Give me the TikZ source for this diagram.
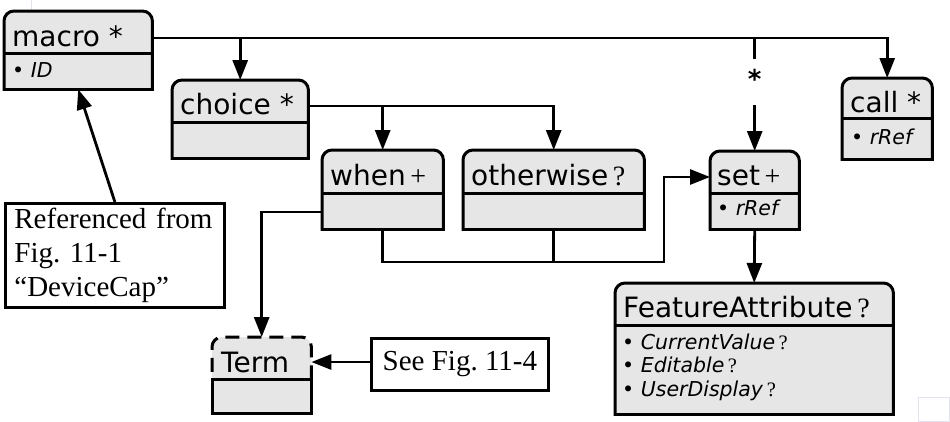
\documentclass[tikz,border=0pt]{standalone}
\usepackage{fontspec}
\setmainfont{DejaVu Sans}
\newfontfamily\tm{Liberation Serif}
\newfontfamily\dvb{DejaVu Sans Bold}
\usetikzlibrary{arrows.meta}
\definecolor{boxfill}{HTML}{E6E6E6}
\definecolor{faint}{HTML}{E2E2F0}
\tikzset{
  x=1pt, y=-1pt,
  conn/.style={line width=2.8pt},
  arr/.style={conn, -{Triangle[length=20pt,width=15pt]}},
  outline/.style={line width=3pt, line cap=rect},
  area/.style={inner sep=0pt, anchor=north west},
  hdr/.style={inner sep=0pt, anchor=base west, font=\fontsize{28}{33}\selectfont},
  attr/.style={inner sep=0pt, anchor=base west, font=\fontsize{20.5}{24}\selectfont},
  notebox/.style={draw, line width=2.8pt, inner sep=0pt, anchor=north west,
    font=\tm\frenchspacing\fontsize{29}{34}\selectfont},
}
\newcommand\umlframe[2]{%
  \fill[boxfill, rounded corners=10pt] (#1.south east) -- (#1.north east) -- (#1.north west) -- (#1.south west);
  \draw[outline, rounded corners=10pt] (#1.south east) -- (#1.north east) -- (#1.north west) -- (#1.south west);
  \draw[outline] (#1.south west) -- (#1.south east);
  \draw[outline] ([yshift=-#2]#1.north west) -- ([yshift=-#2]#1.north east);
}
\newcommand\opt{\,{\tm ?}}
\newcommand\attrq{\,{\tm\fontsize{20.5}{24}\selectfont ?}}
\begin{document}
\begin{tikzpicture}
\useasboundingbox (0,0) rectangle (950,421);

% faint artefacts
\draw[faint, line width=0.8pt] (918,397) rectangle (949,421);
\draw[faint, line width=0.8pt] (31,0) -- (31,10);

% box areas
\node[area, minimum width=148pt, minimum height=78pt] (macro) at (4,11) {};
\node[area, minimum width=136pt, minimum height=78pt] (choice) at (172,80) {};
\node[area, minimum width=121pt, minimum height=79pt] (when) at (322,150) {};
\node[area, minimum width=181pt, minimum height=79pt] (otherwise) at (463,150) {};
\node[area, minimum width=89pt, minimum height=78pt] (set) at (710,151) {};
\node[area, minimum width=90pt, minimum height=81pt] (call) at (842,78) {};
\node[area, minimum width=278pt, minimum height=131pt] (fa) at (615,283) {};
\node[area, minimum width=99pt, minimum height=76pt] (term) at (212,337) {};

\umlframe{macro}{42pt}
\umlframe{choice}{42pt}
\umlframe{when}{43pt}
\umlframe{otherwise}{43pt}
\umlframe{set}{42pt}
\umlframe{call}{40pt}
\umlframe{fa}{42pt}

% Term box: dashed header, solid body
\fill[boxfill, rounded corners=10pt] (term.south east) -- (term.north east) -- (term.north west) -- (term.south west);
\draw[line width=3pt, dash pattern=on 14pt off 8pt, rounded corners=10pt]
  ([yshift=34pt]term.south east) -- (term.north east) -- (term.north west) -- ([yshift=34pt]term.south west);
\draw[outline] ([yshift=34pt]term.south west) rectangle (term.south east);

% texts in boxes
\node[hdr] (macro-t) at (12,46) {macro *};
\node[attr] (macro-a) at (12,77) {• \textit{ID}};
\node[hdr] (choice-t) at (180,114) {choice *};
\node[hdr] (when-t) at (330,185) {when\,{\tm +}};
\node[hdr] (otherwise-t) at (471,185) {otherwise\opt};
\node[hdr] (set-t) at (717,185) {set\,{\tm +}};
\node[attr] (set-a) at (717,215) {• \textit{rRef}};
\node[hdr] (call-t) at (850,112) {call *};
\node[attr] (call-a) at (851,144) {• \textit{rRef}};
\node[hdr] (fa-t) at (623,317) {FeatureAttribute\opt};
\node[attr] (fa-a1) at (622,349) {• \textit{CurrentValue}\attrq};
\node[attr] (fa-a2) at (622,372) {• \textit{Editable}\attrq};
\node[attr] (fa-a3) at (622,396) {• \textit{UserDisplay}\attrq};
\node[hdr] (term-t) at (221,372) {Term};

% notes
\node[notebox, minimum width=219pt, minimum height=104pt, align=left, text width=201pt]
  (note) at (4,202) {Referenced from\\Fig. 11-1\\“DeviceCap”};
\node[notebox, minimum width=177pt, minimum height=52pt, align=center] (see) at (370,337) {See Fig. 11-4};

% connectors
\draw[arr] (macro.east |- 0,38) -| (call.north);
\draw[arr] (choice.north |- 0,38) -- (choice.north);
\draw[conn] (set.north |- 0,38) -- (set.north |- 0,59);
\node[inner sep=0pt, anchor=base, font=\dvb\fontsize{26}{30}\selectfont] (mult) at (set.north |- 0,88) {*};
\draw[arr] (set.north |- 0,105) -- (set.north);

\draw[arr] (choice.east |- 0,106) -| (otherwise.north);
\draw[arr] (when.north |- 0,106) -- (when.north);

\draw[arr] (when.west |- 0,212) -| (term.north);

\coordinate (j) at (664,262);
\draw[arr] (when.south) |- (j) |- (set.west |- 0,177);
\draw[conn] (otherwise.south) -- (otherwise.south |- j);

\draw[arr] (set.south) -- (fa.north);
\draw[arr] (note.north) -- (macro.south);
\draw[arr] (see.west |- 0,362) -- (term.east |- 0,362);
\end{tikzpicture}
\end{document}
